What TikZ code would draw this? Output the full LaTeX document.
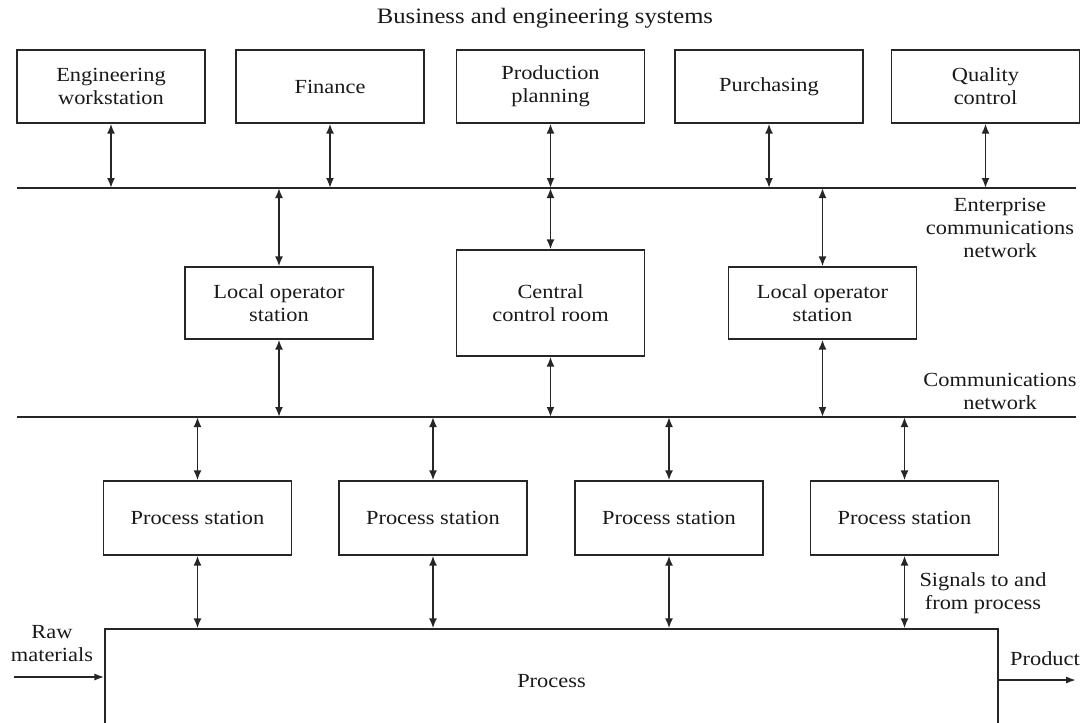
\documentclass[tikz,border=0pt]{standalone}
\usepackage{fontspec}
\setmainfont{Liberation Serif}[FakeStretch=1.12]
\usetikzlibrary{arrows.meta}
\begin{document}
\begin{tikzpicture}[
  x={(0.5pt,0)}, y={(0,-0.5pt)},
  every node/.style={font=\fontsize{10}{11.5}\selectfont, text=black!90},
  box/.style={draw=black!85, line width=0.6pt, align=center, inner sep=0pt,
              minimum width=94pt, minimum height=36.5pt},
  bus/.style={draw=black!85, line width=1.1pt},
  link/.style={draw=black!85, line width=0.95pt,
               {Latex[length=5pt,width=4pt]}-{Latex[length=5pt,width=4pt]}},
  flow/.style={draw=black!85, line width=0.9pt, -{Latex[length=5pt,width=3.6pt]}},
  lbl/.style={align=center, inner sep=0pt}
]
\useasboundingbox (0,0) rectangle (1088,723);

% business and engineering systems
\node[lbl, font=\fontsize{11}{12}\selectfont] (title) at (545,18) {Business and engineering systems};
\node[box] (eng)  at (111,86.5)   {Engineering\\workstation};
\node[box] (fin)  at (330,86.5)   {Finance};
\node[box] (prod) at (550.5,86.5) {Production\\planning};
\node[box] (pur)  at (769,86.5)   {Purchasing};
\node[box] (qc)   at (985.5,86.5) {Quality\\control};

% enterprise communications network
\coordinate (entL) at (17,188);
\coordinate (entR) at (1076,188);
\draw[bus] (entL) -- (entR);
\node[lbl] (entlbl) at (1000,228) {Enterprise\\communications\\network};

\foreach \b in {eng,fin,prod,pur,qc}
  \draw[link] (\b.south) -- (\b.south |- entL);

% operator level
\node[box, minimum height=36pt] (los1) at (279,303)   {Local operator\\station};
\node[box, minimum height=53pt] (ccr)  at (550.5,303) {Central\\control room};
\node[box, minimum height=36pt] (los2) at (822.5,303) {Local operator\\station};

% communications network
\coordinate (comL) at (17,417);
\coordinate (comR) at (1076,417);
\draw[bus] (comL) -- (comR);
\node[lbl] (comlbl) at (1000,391) {Communications\\network};

\foreach \b in {los1,ccr,los2} {
  \draw[link] (\b.north |- entL) -- (\b.north);
  \draw[link] (\b.south) -- (\b.south |- comL);
}

% process stations
\node[box, minimum height=37pt] (ps1) at (197.5,518) {Process station};
\node[box, minimum height=37pt] (ps2) at (433,518)   {Process station};
\node[box, minimum height=37pt] (ps3) at (669,518)   {Process station};
\node[box, minimum height=37pt] (ps4) at (904.5,518) {Process station};

% process (its lower edge runs past the bottom of the page)
\node[box, minimum width=446.5pt, minimum height=52pt] (proc) at (551.5,681) {Process};

\foreach \b in {ps1,ps2,ps3,ps4} {
  \draw[link] (\b.north |- comL) -- (\b.north);
  \draw[link] (\b.south) -- (\b.south |- proc.north);
}

\node[lbl] (sig) at (983,593) {Signals to and\\from process};

% material flow
\node[lbl] (rawlbl) at (52,644) {Raw\\materials};
\coordinate (rawin) at (14,677);
\draw[flow] (rawin) -- (rawin -| proc.west);
\node[lbl] (prodlbl) at (1045,659) {Product};
\coordinate (prodout) at (1076,680);
\draw[flow] (prodout -| proc.east) -- (prodout);
\end{tikzpicture}
\end{document}
